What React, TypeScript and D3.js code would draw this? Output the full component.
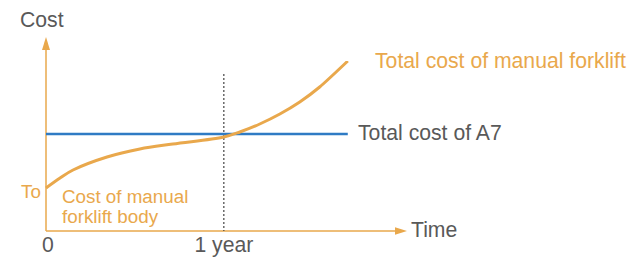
import React from 'react';
import * as d3 from 'd3';

// time in years, cost in relative units
const manualTime = [0, 0.079, 0.152, 0.343, 0.528, 0.713, 1.0, 1.09, 1.202, 1.315, 1.427, 1.539, 1.697];
const manualCost = [4.3, 5.3, 6.1, 7.4, 8.2, 8.7, 9.4, 9.9, 10.7, 11.7, 12.9, 14.4, 17.0];
const a7Cost = 9.7;
const lineEnd = 1.697;
const xTicks = [{ t: 0, label: '0' }, { t: 1, label: '1 year' }];

const ORANGE = '#e9a84c';
const BLUE = '#2f7bc4';
const GRAY = '#595959';
const FONT = '"Liberation Sans", Arial, sans-serif';

const App: React.FC = () => {
  const width = 629;
  const height = 258;

  const x = d3.scaleLinear().domain([0, 2.03]).range([46, 407]);
  const y = d3.scaleLinear().domain([0, 19.4]).range([231, 37]);

  const pts: [number, number][] = manualTime.map((t, i) => [t, manualCost[i]]);
  const line = d3
    .line<[number, number]>()
    .x((d) => x(d[0]))
    .y((d) => y(d[1]))
    .curve(d3.curveCatmullRom.alpha(0.5));

  const x0 = x(0);
  const y0 = y(0);
  const xEnd = x.range()[1];
  const yTop = y.range()[1];

  return (
    <svg
      width={width}
      height={height}
      style={{ position: 'absolute', left: 0, top: 0, display: 'block', background: '#fff' }}
      fontFamily={FONT}
      fontSize={21.2}
    >
      {/* axes */}
      <line x1={x0} y1={y0} x2={x0} y2={yTop + 12} stroke={ORANGE} strokeWidth={1.5} />
      <path d={`M${x0},${yTop} L${x0 - 4},${yTop + 13} L${x0 + 4},${yTop + 13} Z`} fill={ORANGE} />
      <line x1={x0} y1={y0} x2={xEnd - 11} y2={y0} stroke={ORANGE} strokeWidth={1.5} />
      <path d={`M${xEnd},${y0} L${xEnd - 12},${y0 - 3.8} L${xEnd - 12},${y0 + 3.8} Z`} fill={ORANGE} />

      {/* 1 year marker */}
      <line x1={x(1)} y1={y(15.7)} x2={x(1)} y2={y0} stroke="#444" strokeWidth={1.2} strokeDasharray="2,2" />

      {/* A7 */}
      <line x1={x(0)} y1={y(a7Cost)} x2={x(lineEnd)} y2={y(a7Cost)} stroke={BLUE} strokeWidth={2.5} />
      {/* manual forklift */}
      <path d={line(pts) || ''} fill="none" stroke={ORANGE} strokeWidth={3} />

      {/* labels */}
      <text x={20} y={27} fill={GRAY}>Cost</text>
      <text x={411} y={237} fill={GRAY}>Time</text>
      {xTicks.map((d) => (
        <text key={d.label} x={x(d.t) + (d.t === 0 ? 2 : 0)} y={252} textAnchor="middle" fill={GRAY}>
          {d.label}
        </text>
      ))}
      <text x={358} y={140} fill={GRAY}>Total cost of A7</text>
      <text x={375} y={68} fill={ORANGE}>Total cost of manual forklift</text>
      <g fontSize={18.8} fill={ORANGE}>
        <text x={21} y={198}>To</text>
        <text x={62} y={203}>Cost of manual</text>
        <text x={62} y={223}>forklift body</text>
      </g>
    </svg>
  );
};

export default App;
